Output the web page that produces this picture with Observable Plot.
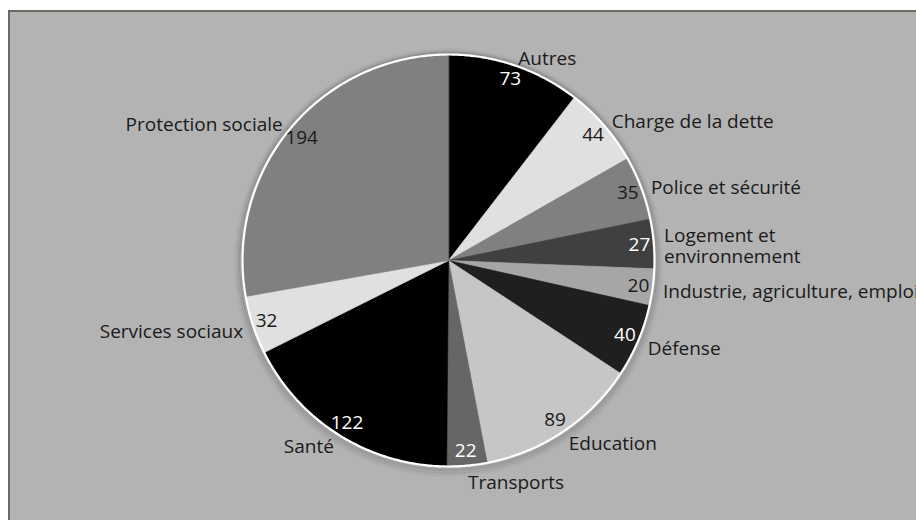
<!DOCTYPE html>
<html><head><meta charset="utf-8">
<script src="https://cdn.jsdelivr.net/npm/d3@7"></script>
<script src="https://cdn.jsdelivr.net/npm/@observablehq/plot@0.6"></script>
<style>
html,body{margin:0;padding:0;background:#fff;width:916px;height:520px;overflow:hidden;}
#frame{position:absolute;left:8px;top:10px;width:1000px;height:600px;background:#b3b3b3;border-left:2px solid #6b6b62;border-top:2px solid #6b6b62;}
#chart{position:absolute;left:0;top:0;}
</style></head><body><div id="frame"></div><div id="chart"></div>
<script>
// Data (clockwise from 12 o'clock)
const categories = ["Autres","Charge de la dette","Police et sécurité","Logement et\nenvironnement","Industrie, agriculture, emploi","Défense","Education","Transports","Santé","Services sociaux","Protection sociale"];
const values = [73,44,35,27,20,40,89,22,122,32,194];
// Palette (color scale range)
const palette = ["#000000","#e0e0e0","#808080","#404040","#a6a6a6","#1f1f1f","#c6c6c6","#666666","#000000","#e0e0e0","#808080"];

// Layout
const W = 916, H = 520, CX = 448, CY = 260, R = 206;
const xDomain = [-CX / R, (W - CX) / R];
const yDomain = [-(H - CY) / R, CY / R];

const arcs = d3.pie().sort(null).value(d => d)(values);

// slice polygons in unit-circle coordinates
const slicePts = [];
arcs.forEach((a, i) => {
  const cat = categories[i];
  slicePts.push({cat, x: 0, y: 0});
  const n = Math.max(2, Math.ceil((a.endAngle - a.startAngle) / 0.005));
  for (let k = 0; k <= n; k++) {
    const t = a.startAngle + (a.endAngle - a.startAngle) * k / n;
    slicePts.push({cat, x: Math.sin(t), y: Math.cos(t)});
  }
});

function ring(r, dy = 0, id = "r") {
  const pts = [];
  for (let k = 0; k <= 720; k++) {
    const t = 2 * Math.PI * k / 720;
    pts.push({id, x: r * Math.sin(t), y: r * Math.cos(t) + dy});
  }
  return pts;
}

// labels
const labels = arcs.map((a, i) => {
  const m = (a.startAngle + a.endAngle) / 2;
  const s = Math.sin(m), c = Math.cos(m);
  const col = d3.hsl(palette[i]);
  return {
    cat: categories[i], value: values[i],
    vx: 0.93 * s, vy: 0.93 * c,
    nx: 1.05 * s, ny: 1.05 * c,
    side: s >= 0 ? "right" : "left",
    bottom: c < -0.9,
    light: col.l < 0.45
  };
});

const font = "'Open Sans', sans-serif";
const fs = 19;
const ink = "#1a1a1a";

const plot = Plot.plot({
  width: W, height: H, margin: 0,
  x: {domain: xDomain, axis: null},
  y: {domain: yDomain, axis: null},
  color: {domain: categories, range: palette},
  style: {background: "transparent", fontFamily: font},
  marks: [
    // soft shadow
    Plot.line(ring(1.030, -0.010), {x: "x", y: "y", stroke: "#000", strokeOpacity: 0.04, strokeWidth: 4}),
    Plot.line(ring(1.020, -0.008), {x: "x", y: "y", stroke: "#000", strokeOpacity: 0.07, strokeWidth: 3}),
    Plot.line(ring(1.010, -0.005), {x: "x", y: "y", stroke: "#000", strokeOpacity: 0.12, strokeWidth: 3}),
    // slices
    Plot.line(slicePts, {x: "x", y: "y", z: "cat", fill: "cat", stroke: "cat", strokeWidth: 0.6, curve: "linear-closed"}),
    // white rim
    Plot.line(ring(1.0), {x: "x", y: "y", stroke: "#ffffff", strokeWidth: 2.2}),
    // value labels
    Plot.text(labels.filter(d => d.light), {x: "vx", y: "vy", text: d => String(d.value), fill: "#ffffff", fontSize: fs}),
    Plot.text(labels.filter(d => !d.light), {x: "vx", y: "vy", text: d => String(d.value), fill: ink, fontSize: fs}),
    // category labels
    Plot.text(labels.filter(d => d.side === "right" && !d.bottom), {x: "nx", y: "ny", dy: 3, text: "cat", textAnchor: "start", fill: ink, fontSize: fs, lineHeight: 1.1}),
    Plot.text(labels.filter(d => d.side === "right" && d.bottom), {x: "nx", y: "ny", text: "cat", textAnchor: "start", lineAnchor: "top", fill: ink, fontSize: fs}),
    Plot.text(labels.filter(d => d.side === "left"), {x: "nx", y: "ny", dy: 3, text: "cat", textAnchor: "end", fill: ink, fontSize: fs})
  ]
});
document.getElementById("chart").appendChild(plot);
</script></body></html>
